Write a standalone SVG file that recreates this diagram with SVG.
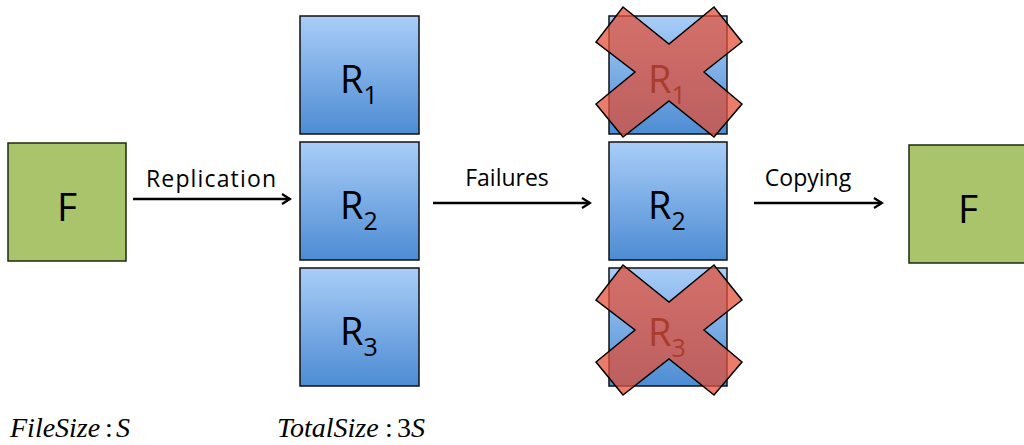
<svg xmlns="http://www.w3.org/2000/svg" width="1024" height="445" viewBox="0 0 1024 445">
<defs>
<linearGradient id="blue" x1="0" y1="0" x2="0" y2="1">
<stop offset="0" stop-color="#a9cdf8"/>
<stop offset="1" stop-color="#4d8cd3"/>
</linearGradient>
<marker id="ah" viewBox="0 0 12 12" refX="10" refY="6" markerWidth="12" markerHeight="12" markerUnits="userSpaceOnUse" orient="auto">
<path d="M2,1 L10,6 L2,11" fill="none" stroke="#000" stroke-width="2.2"/>
</marker>
<polygon id="xshape" points="623,7 669,44 714,7 742,42 704,72 742,104 714,137 669,101 623,137 596,104 635,72 596,42"/>
</defs>
<style>
.green{fill:#a9c46b;stroke:#1e2a10;stroke-width:1.5}
.blue{fill:url(#blue);stroke:#111;stroke-width:1.5}
.lbl{font-family:"Open Sans","Liberation Sans",sans-serif;fill:#000}
.big{font-size:38px}
.sub{font-size:25px}
.edge{font-family:"Open Sans","Liberation Sans",sans-serif;font-size:23px;fill:#000}
.conn{stroke:#000;stroke-width:2.5;fill:none;marker-end:url(#ah)}
.cross{fill:#e2503a;fill-opacity:0.75;stroke:#000;stroke-width:1.5}
.math{font-family:"Liberation Serif",serif;font-style:italic;font-size:28px;fill:#000}
.up{font-style:normal}
</style>
<g id="F1"><rect class="green" x="8" y="143" width="118" height="118"/><text class="lbl" x="67" y="221" font-size="39" text-anchor="middle">F</text></g>
<g id="R1"><rect class="blue" x="300" y="16" width="119" height="118"/><text class="lbl big" x="340" y="93">R<tspan class="sub" dy="11">1</tspan></text></g>
<g id="R2"><rect class="blue" x="300" y="142" width="119" height="118"/><text class="lbl big" x="340" y="219">R<tspan class="sub" dy="11">2</tspan></text></g>
<g id="R3"><rect class="blue" x="300" y="268" width="119" height="118"/><text class="lbl big" x="340" y="345">R<tspan class="sub" dy="11">3</tspan></text></g>
<g id="R1f"><rect class="blue" x="609" y="16" width="118" height="118"/><text class="lbl big" x="648" y="93">R<tspan class="sub" dy="11">1</tspan></text><use href="#xshape" class="cross"/></g>
<g id="R2m"><rect class="blue" x="609" y="142" width="118" height="118"/><text class="lbl big" x="648" y="219">R<tspan class="sub" dy="11">2</tspan></text></g>
<g id="R3f"><rect class="blue" x="609" y="268" width="118" height="118"/><text class="lbl big" x="648" y="346">R<tspan class="sub" dy="11">3</tspan></text><use href="#xshape" class="cross" transform="translate(0,258)"/></g>
<g id="F2"><rect class="green" x="909" y="145" width="118" height="118"/><text class="lbl" x="968" y="223" font-size="39" text-anchor="middle">F</text></g>
<g id="connectors">
<line class="conn" x1="133" y1="199" x2="290" y2="199"/>
<text class="edge" x="211" y="187" text-anchor="middle" textLength="130">Replication</text>
<line class="conn" x1="433" y1="203" x2="590" y2="203"/>
<text class="edge" x="507" y="186" text-anchor="middle">Failures</text>
<line class="conn" x1="754" y1="203" x2="882" y2="203"/>
<text class="edge" x="808" y="186" text-anchor="middle">Copying</text>
</g>
<g id="notes">
<text class="math" x="10" y="437">FileSize</text>
<text class="math up" x="105" y="437">:</text>
<text class="math" x="116" y="437">S</text>
<text class="math" x="277" y="437">TotalSize</text>
<text class="math up" x="385" y="437">:</text>
<text class="math" x="397" y="437"><tspan class="up">3</tspan>S</text>
</g>
</svg>
